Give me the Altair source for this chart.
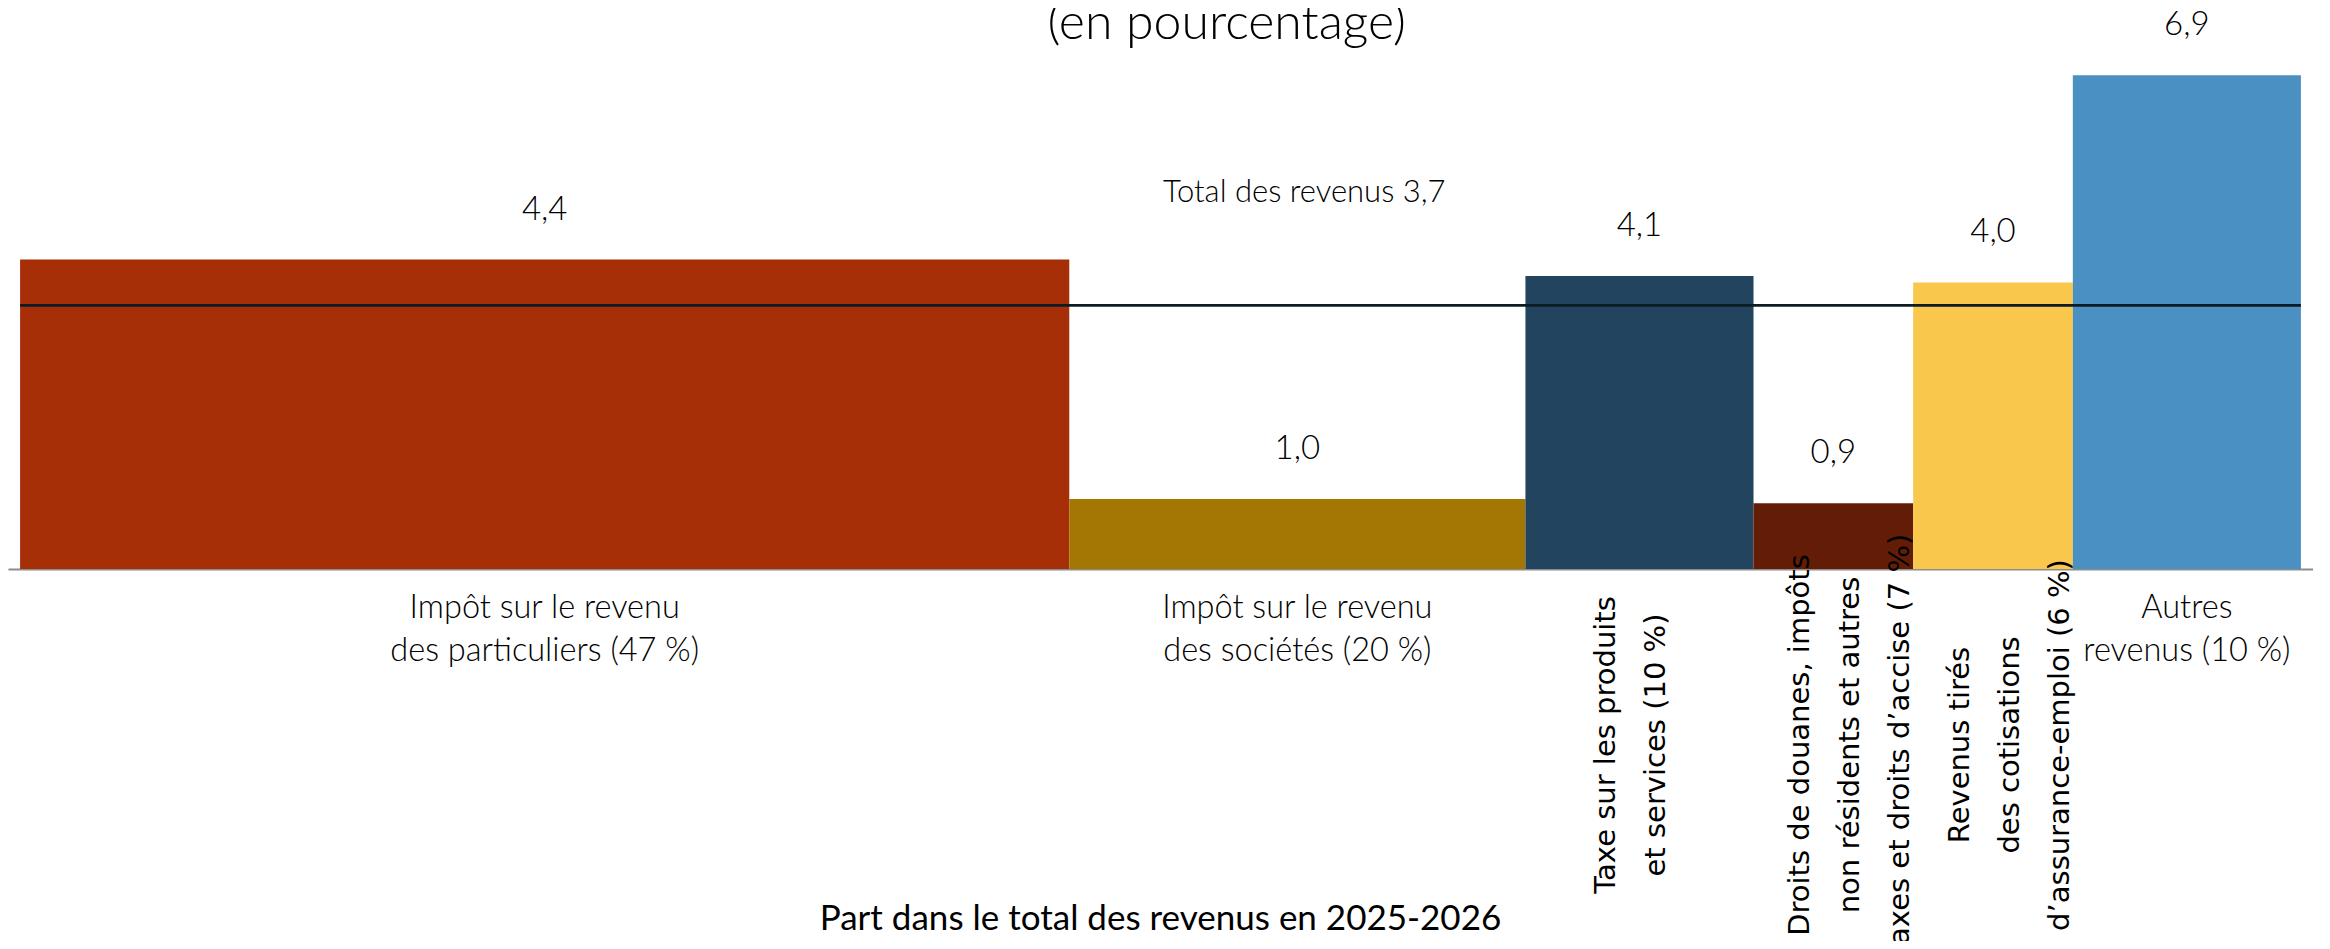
import altair as alt
import pandas as pd

# ---- data ----
categories = [
    "Impôt sur le revenu\ndes particuliers (47 %)",
    "Impôt sur le revenu\ndes sociétés (20 %)",
    "Taxe sur les produits\net services (10 %)",
    "Droits de douanes, impôts\nnon résidents et autres\ntaxes et droits d’accise (7 %)",
    "Revenus tirés\ndes cotisations\nd’assurance-emploi (6 %)",
    "Autres\nrevenus (10 %)",
]
width_share = [46.0, 20.0, 10.0, 7.0, 7.0, 10.0]   # bar widths (share of total, %)
growth = [4.33, 0.98, 4.1, 0.92, 4.01, 6.91]         # bar heights as read (%)
value_labels = ["4,4", "1,0", "4,1", "0,9", "4,0", "6,9"]
rotated = [False, False, True, True, True, False]
colors = ["#a62f08", "#a47705", "#22445e", "#631d06", "#f9c74c", "#4a90c2"]
total_value = 3.69
total_label = "Total des revenus 3,7"
title_text = "(en pourcentage)"
x_title = "Part dans le total des revenus en 2025-2026"

# ---- table ----
starts, ends = [], []
acc = 0.0
for w in width_share:
    starts.append(acc)
    acc += w
    ends.append(acc)
df = pd.DataFrame({
    "cat": categories,
    "x0": starts,
    "x1": ends,
    "mid": [(a + b) / 2 for a, b in zip(starts, ends)],
    "val": growth,
    "lab": value_labels,
    "rot": rotated,
    "color": colors,
})

W, H = 2305, 561
xs = alt.Scale(domain=[-0.53, 100.53], nice=False, zero=False)
ys = alt.Scale(domain=[0, 7.85], nice=False, zero=True)
LF = "Lato"

base = alt.Chart(df)

bars = base.mark_rect().encode(
    x=alt.X("x0:Q", scale=xs,
            axis=alt.Axis(labels=False, ticks=False, grid=False, title=None,
                          domainColor="#8c8c8c", domainWidth=2)),
    x2="x1:Q",
    y=alt.Y("val:Q", scale=ys, axis=None),
    y2=alt.datum(0),
    color=alt.Color("color:N", scale=None),
)

vals = base.mark_text(font=LF, fontSize=33, fontWeight=300, color="#000",
                      baseline="middle", align="center", dy=-50).encode(
    x=alt.X("mid:Q", scale=xs), y=alt.Y("val:Q", scale=ys), text="lab:N")

hlabels = base.transform_filter("!datum.rot").mark_text(
    font=LF, fontSize=32.5, fontWeight=300, color="#000", baseline="middle",
    align="center", lineBreak="\n", lineHeight=43, dy=39).encode(
    x=alt.X("mid:Q", scale=xs), y=alt.datum(0, scale=ys), text="cat:N")

vlabels = base.transform_filter("datum.rot").mark_text(
    font="DejaVu Sans", fontSize=29, color="#000", baseline="middle",
    align="center", angle=270, lineBreak="\n", lineHeight=50,
    dx=-176, dy=-33).encode(
    x=alt.X("mid:Q", scale=xs), y=alt.datum(0, scale=ys), text="cat:N")

total_rule = alt.Chart(pd.DataFrame({"v": [total_value]})).mark_rule(
    color="#0d1b24", strokeWidth=2.8).encode(
    x=alt.datum(0, scale=xs), x2=alt.datum(100), y=alt.Y("v:Q", scale=ys))

total_text = alt.Chart(pd.DataFrame({"v": [total_value], "t": [total_label]})).mark_text(
    font=LF, fontSize=31, fontWeight=300, color="#000", baseline="middle",
    align="center", dy=-112).encode(
    x=alt.datum(56.3, scale=xs), y=alt.Y("v:Q", scale=ys), text="t:N")

title = alt.Chart(pd.DataFrame({"t": [title_text]})).mark_text(
    font=LF, fontSize=50, fontWeight=300, color="#000", baseline="middle",
    align="center").encode(
    x=alt.datum(52.9, scale=xs), y=alt.value(16), text="t:N")

xtitle = alt.Chart(pd.DataFrame({"t": [x_title]})).mark_text(
    font=LF, fontSize=35, fontWeight=400, color="#000", baseline="middle",
    align="center", dy=350).encode(
    x=alt.datum(50, scale=xs), y=alt.datum(0, scale=ys), text="t:N")

chart = alt.layer(bars, total_rule, vals, hlabels, vlabels, total_text, title, xtitle).properties(
    width=W, height=H,
    autosize=alt.AutoSizeParams(type="none"),
    padding={"left": 0, "top": 0, "right": 0, "bottom": 372},
).configure_view(stroke=None)

chart.save("out.html", embed_options={"renderer": "svg", "actions": False})
